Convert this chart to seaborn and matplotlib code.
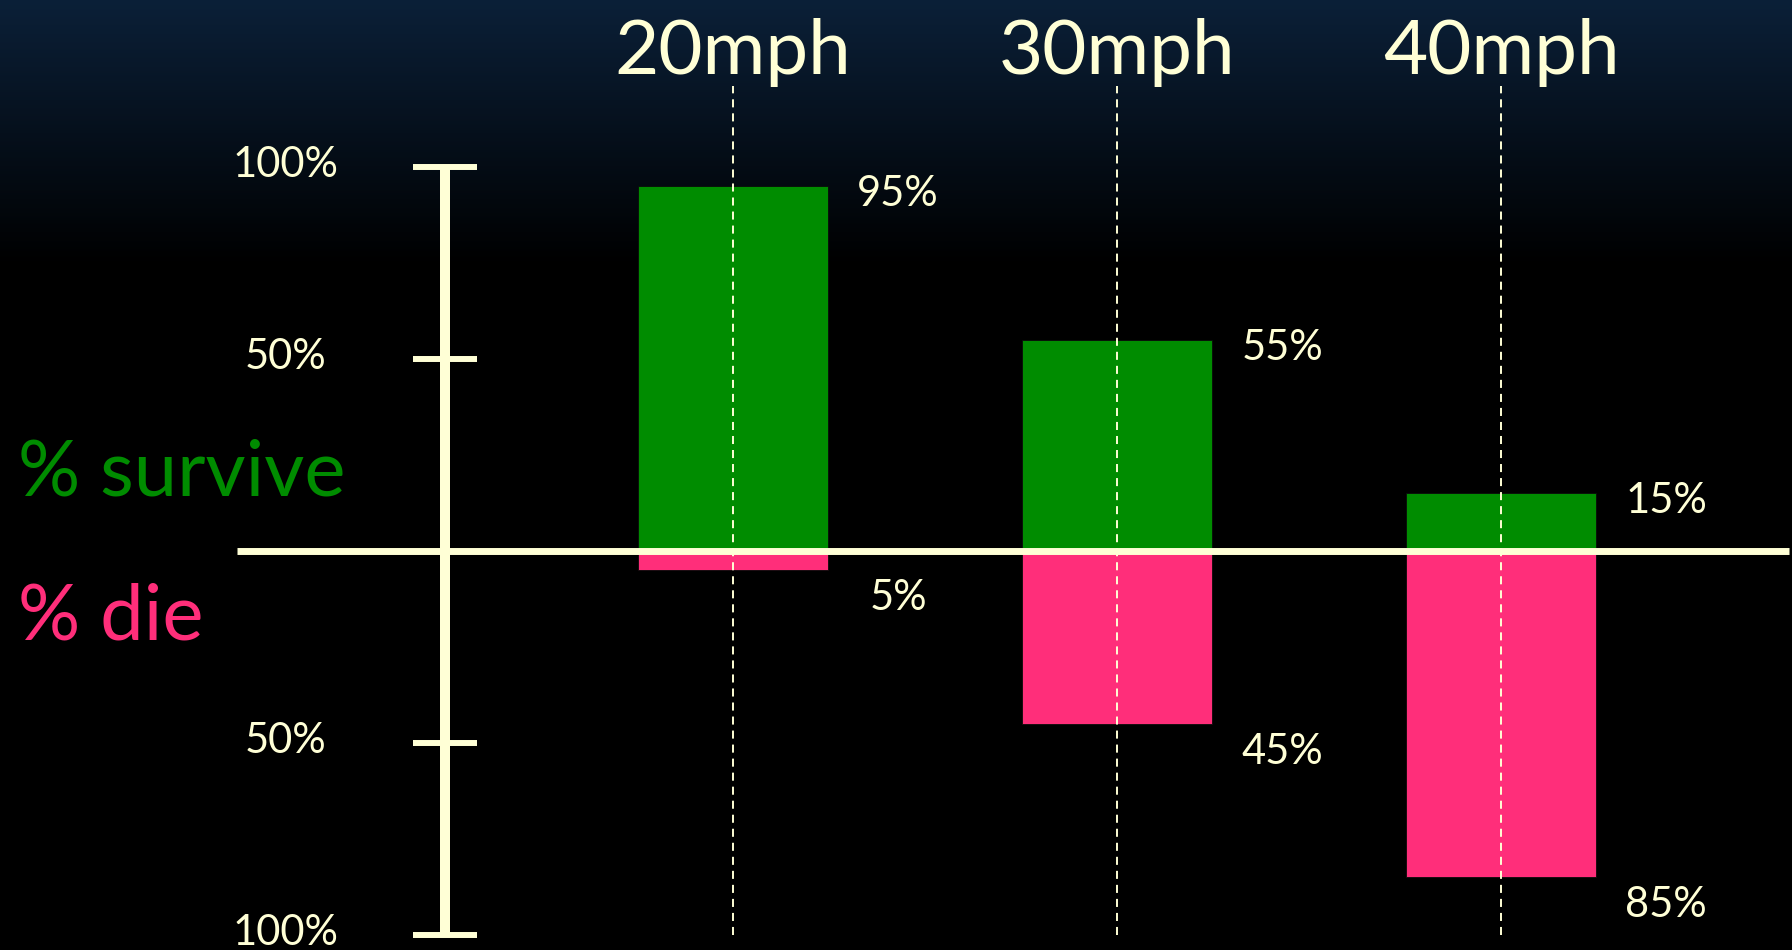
import numpy as np
import matplotlib
matplotlib.use("Agg")
import matplotlib.pyplot as plt
import seaborn as sns

# Crash outcomes for a pedestrian hit at each speed
speeds = ["20mph", "30mph", "40mph"]
survive = [95, 55, 15]
die = [5, 45, 85]
scale_ticks = [100, 50, -50, -100]
scale_labels = ["100%", "50%", "50%", "100%"]

GREEN = "#008C00"
PINK = "#FF2E7A"
CREAM = "#FFFFD6"

sns.set_theme(style="white")
plt.rcParams["font.family"] = ["Lato", "DejaVu Sans"]
plt.rcParams["lines.scale_dashes"] = False

W, H, DPI = 1792, 950, 100
fig = plt.figure(figsize=(W / DPI, H / DPI), dpi=DPI)
ax = fig.add_axes([0, 0, 1, 1])

# layout: one category step = 384 px, zero line at 551 px from top
step_px = 384.0
x0_px = 733.0
zero_px = 551.0
px_per_pct = 3.84
xlim = (-x0_px / step_px, (W - x0_px) / step_px)
ylim = (-(H - zero_px) / px_per_pct, zero_px / px_per_pct)

# dark navy-to-black background gradient
rows = np.arange(H)
t = np.clip(rows / 265.0, 0, 1)
top = np.array([11, 32, 56]) / 255.0
grad = (top[None, :] * (1 - t)[:, None])[:, None, :]
ax.imshow(grad, extent=[xlim[0], xlim[1], ylim[0], ylim[1]],
          aspect="auto", origin="upper", zorder=0, interpolation="bilinear")

sns.barplot(x=speeds, y=survive, order=speeds, color=GREEN, saturation=1,
            width=0.495, edgecolor="#0a0a0a", linewidth=0.6, ax=ax, zorder=2)
sns.barplot(x=speeds, y=[-d for d in die], order=speeds, color=PINK,
            saturation=1, width=0.495, edgecolor="#0a0a0a", linewidth=0.6,
            ax=ax, zorder=2)

xs = np.arange(len(speeds))

# dashed guide through each speed
ax.vlines(xs, -100, 121.1, colors=CREAM, linewidth=1.4,
          linestyles=[(0, (5.8, 4.3))], zorder=3)

# zero baseline
ax.plot([-1.2917, 2.75], [0, 0], color=CREAM, lw=5.0,
        solid_capstyle="butt", zorder=4)

# left percentage scale
ax.plot([-0.75, -0.75], [-100, 100], color=CREAM, lw=7.2,
        solid_capstyle="butt", zorder=4)
ax.hlines(scale_ticks, -0.8333, -0.6667, colors=CREAM, lw=4.3, zorder=4)
for v, lab in zip(scale_ticks, scale_labels):
    ax.text(-1.164, v - 2.6, lab, ha="center", va="baseline",
            color=CREAM, fontsize=30)

# speed headings
for x, s in zip(xs, speeds):
    ax.text(x, 124.2, s, ha="center", va="baseline", color=CREAM,
            fontsize=55)

# value labels
for x, s, d in zip(xs, survive, die):
    ax.text(x + 0.43, s - 5.2, f"{s}%", ha="center", va="baseline",
            color=CREAM, fontsize=30)
    ax.text(x + 0.43, -d - 10.4, f"{d}%", ha="center", va="baseline",
            color=CREAM, fontsize=30)

# side captions
ax.text(-x0_px / step_px + 18 / step_px, (zero_px - 496) / px_per_pct,
        "% survive", ha="left", va="baseline", color=GREEN, fontsize=56)
ax.text(-x0_px / step_px + 18 / step_px, (zero_px - 640) / px_per_pct,
        "% die", ha="left", va="baseline", color=PINK, fontsize=56)

ax.set_xlim(*xlim)
ax.set_ylim(*ylim)
ax.set_axis_off()

fig.savefig("out.png", dpi=DPI, facecolor="black")
